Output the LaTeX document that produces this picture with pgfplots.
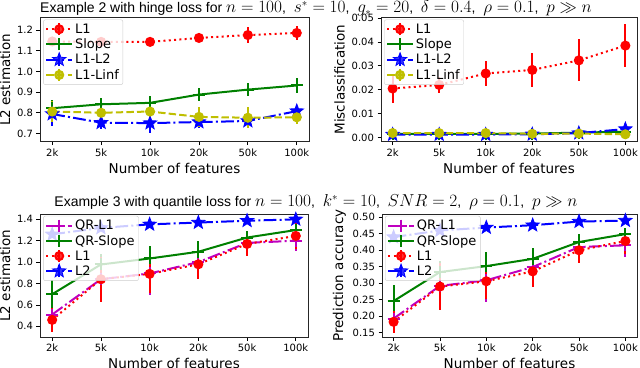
\documentclass[border=0pt]{standalone}
\usepackage{pgfplots}
\pgfplotsset{compat=1.18}
\usepackage{pgfplotstable}
\usepackage{fontspec}
\setmainfont{DejaVu Sans}
\newfontfamily\titlefont{Liberation Sans}

\definecolor{mplr}{rgb}{1,0,0}
\definecolor{mplg}{rgb}{0,0.5,0}
\definecolor{mplb}{rgb}{0,0,1}
\definecolor{mply}{rgb}{0.75,0.75,0}
\definecolor{mplm}{rgb}{0.75,0,0.75}

% filled five-pointed star, like matplotlib's '*'
\pgfdeclareplotmark{fstar}{%
  \pgfpathmoveto{\pgfpointpolar{90}{\pgfplotmarksize}}%
  \pgfpathlineto{\pgfpointpolar{126}{0.42\pgfplotmarksize}}%
  \pgfpathlineto{\pgfpointpolar{162}{\pgfplotmarksize}}%
  \pgfpathlineto{\pgfpointpolar{198}{0.42\pgfplotmarksize}}%
  \pgfpathlineto{\pgfpointpolar{234}{\pgfplotmarksize}}%
  \pgfpathlineto{\pgfpointpolar{270}{0.42\pgfplotmarksize}}%
  \pgfpathlineto{\pgfpointpolar{306}{\pgfplotmarksize}}%
  \pgfpathlineto{\pgfpointpolar{342}{0.42\pgfplotmarksize}}%
  \pgfpathlineto{\pgfpointpolar{18}{\pgfplotmarksize}}%
  \pgfpathlineto{\pgfpointpolar{54}{0.42\pgfplotmarksize}}%
  \pgfpathclose\pgfusepathqfillstroke}

\newcommand\tm[1]{{\fontsize{16}{18}\selectfont$#1$}}

% hinge loss, L2 estimation
\pgfplotstableread{
x l1 el1 sl esl lt elt li eli
0 1.145 0.020 0.822 0.040 0.794 0.060 0.806 0.050
1 1.143 0.020 0.841 0.030 0.752 0.030 0.800 0.030
2 1.143 0.020 0.848 0.035 0.750 0.050 0.806 0.030
3 1.162 0.020 0.888 0.030 0.755 0.030 0.780 0.050
4 1.176 0.040 0.912 0.030 0.760 0.030 0.776 0.050
5 1.186 0.035 0.932 0.035 0.808 0.020 0.778 0.030
}\tl
% hinge loss, misclassification
\pgfplotstableread{
x l1 el1 sl esl lt elt li eli
0 0.0205 0.0060 0.0015 0.0008 0.0012 0.0008 0.0018 0.0008
1 0.0220 0.0035 0.0015 0.0008 0.0012 0.0008 0.0018 0.0008
2 0.0268 0.0053 0.0015 0.0008 0.0012 0.0008 0.0018 0.0008
3 0.0283 0.0070 0.0016 0.0008 0.0013 0.0008 0.0015 0.0008
4 0.0323 0.0088 0.0020 0.0008 0.0018 0.0008 0.0016 0.0008
5 0.0385 0.0090 0.0024 0.0008 0.0035 0.0008 0.0013 0.0008
}\tr
% quantile loss, L2 estimation
\pgfplotstableread{
x qr eqr sl esl l1 el1 l2 el2
0 0.510 0.07 0.700 0.13 0.460 0.11 1.260 0.020
1 0.840 0.15 0.978 0.10 0.840 0.21 1.320 0.020
2 0.894 0.20 1.034 0.12 0.890 0.18 1.353 0.015
3 1.000 0.12 1.097 0.10 0.980 0.14 1.370 0.015
4 1.180 0.08 1.230 0.06 1.170 0.11 1.387 0.015
5 1.200 0.10 1.300 0.05 1.245 0.12 1.400 0.015
}\bl
% quantile loss, prediction accuracy
\pgfplotstableread{
x qr eqr sl esl l1 el1 l2 el2
0 0.193 0.030 0.246 0.050 0.183 0.033 0.440 0.010
1 0.292 0.060 0.334 0.033 0.290 0.070 0.460 0.010
2 0.309 0.065 0.352 0.043 0.306 0.055 0.469 0.008
3 0.349 0.040 0.374 0.033 0.336 0.047 0.476 0.008
4 0.410 0.035 0.425 0.025 0.400 0.040 0.487 0.008
5 0.415 0.035 0.449 0.020 0.428 0.040 0.490 0.008
}\br

\pgfplotsset{
  base/.style={
    scale only axis,
    xmin=-0.25, xmax=5.25,
    xtick={0,...,5}, xticklabels={2k,5k,10k,20k,50k,100k},
    tick align=outside, tick pos=left, major tick length=3.5pt,
    tick style={black, line width=0.8pt},
    axis line style={line width=0.8pt, black!85},
    ticklabel style={font=\fontsize{10}{12}\selectfont},
    label style={font=\fontsize{13.5}{16}\selectfont},
    xlabel={Number of features},
    scaled y ticks=false,
    /pgf/number format/assume math mode=true,
    legend cell align=left,
    legend style={at={(0.012,0.985)}, anchor=north west,
      draw=black!20, fill=white, fill opacity=0.8, text opacity=1,
      rounded corners=2pt, font=\fontsize{13}{15}\selectfont,
      inner sep=2pt, row sep=0pt},
    legend image code/.code={
      \draw[##1,solid] (0.45cm,-6pt) -- (0.45cm,6pt);
      \draw[mark repeat=2,mark phase=2,##1] plot coordinates {(0cm,0cm) (0.45cm,0cm) (0.9cm,0cm)};
    },
  },
  prec/.style={yticklabel style={/pgf/number format/fixed,
    /pgf/number format/fixed zerofill, /pgf/number format/precision=#1}},
  eb/.style={line width=2pt, error bars/y dir=both, error bars/y explicit,
    error bars/error mark=none,
    error bars/error bar style={line width=2pt, solid}},
  sL1/.style={eb, mplr, dash pattern=on 2pt off 3.3pt, mark=*, mark size=4pt, mark options={solid}},
  sSl/.style={eb, mplg, solid, mark=+, mark size=6pt, mark options={solid, line width=2pt}},
  sLt/.style={eb, mplb, dash pattern=on 12.8pt off 3.2pt on 2pt off 3.2pt, mark=fstar, mark size=7pt, mark options={solid, fill=mplb, line width=0.8pt}},
  sLi/.style={eb, mply, dash pattern=on 7.4pt off 3.2pt, mark=*, mark size=4pt, mark options={solid}},
  sQr/.style={eb, mplm, dash pattern=on 12.8pt off 3.2pt on 2pt off 3.2pt, mark=+, mark size=6pt, mark options={solid, line width=2pt}},
}

\begin{document}
\begin{tikzpicture}
\useasboundingbox (0pt,0pt) rectangle (640pt,367pt);

\node[font=\titlefont\fontsize{14}{16}\selectfont, anchor=base] at (316pt,354pt)
  {Example 2 with hinge loss for \tm{n=100},\; \tm{s^*=10},\; \tm{g_*=20},\; \tm{\delta=0.4},\; \tm{\rho=0.1},\; \tm{p\gg n}};
\node[font=\titlefont\fontsize{14}{16}\selectfont, anchor=base] at (316pt,160pt)
  {Example 3 with quantile loss for \tm{n=100},\; \tm{k^*=10},\; \tm{SNR=2},\; \tm{\rho=0.1},\; \tm{p\gg n}};

\begin{axis}[base, prec=1, at={(40pt,225.3pt)}, anchor=south west, width=269pt, height=124pt,
  ymin=0.66, ymax=1.26, ytick={0.7,0.8,...,1.21},
  ylabel={L2 estimation}]
\addplot[sL1] table[x=x, y=l1, y error=el1] {\tl}; \addlegendentry{L1}
\addplot[sSl] table[x=x, y=sl, y error=esl] {\tl}; \addlegendentry{Slope}
\addplot[sLt] table[x=x, y=lt, y error=elt] {\tl}; \addlegendentry{L1-L2}
\addplot[sLi] table[x=x, y=li, y error=eli] {\tl}; \addlegendentry{L1-Linf}
\end{axis}

\begin{axis}[base, prec=2, at={(381pt,225.3pt)}, anchor=south west, width=256pt, height=124pt,
  ymin=-0.0018, ymax=0.0502, ytick={0,0.01,...,0.051},
  ylabel={Misclassification}]
\addplot[sL1] table[x=x, y=l1, y error=el1] {\tr}; \addlegendentry{L1}
\addplot[sSl] table[x=x, y=sl, y error=esl] {\tr}; \addlegendentry{Slope}
\addplot[sLt] table[x=x, y=lt, y error=elt] {\tr}; \addlegendentry{L1-L2}
\addplot[sLi] table[x=x, y=li, y error=eli] {\tr}; \addlegendentry{L1-Linf}
\end{axis}

\begin{axis}[base, prec=1, at={(40pt,30pt)}, anchor=south west, width=268pt, height=123pt,
  ymin=0.30, ymax=1.45, ytick={0.4,0.6,...,1.41},
  ylabel={L2 estimation}]
\addplot[sQr] table[x=x, y=qr, y error=eqr] {\bl}; \addlegendentry{QR-L1}
\addplot[sSl] table[x=x, y=sl, y error=esl] {\bl}; \addlegendentry{QR-Slope}
\addplot[sL1] table[x=x, y=l1, y error=el1] {\bl}; \addlegendentry{L1}
\addplot[sLt] table[x=x, y=l2, y error=el2] {\bl}; \addlegendentry{L2}
\end{axis}

\begin{axis}[base, prec=2, at={(382pt,30pt)}, anchor=south west, width=255pt, height=123pt,
  ymin=0.137, ymax=0.51, ytick={0.15,0.2,...,0.51},
  ylabel={Prediction accuracy}]
\addplot[sQr] table[x=x, y=qr, y error=eqr] {\br}; \addlegendentry{QR-L1}
\addplot[sSl] table[x=x, y=sl, y error=esl] {\br}; \addlegendentry{QR-Slope}
\addplot[sL1] table[x=x, y=l1, y error=el1] {\br}; \addlegendentry{L1}
\addplot[sLt] table[x=x, y=l2, y error=el2] {\br}; \addlegendentry{L2}
\end{axis}
\end{tikzpicture}
\end{document}
